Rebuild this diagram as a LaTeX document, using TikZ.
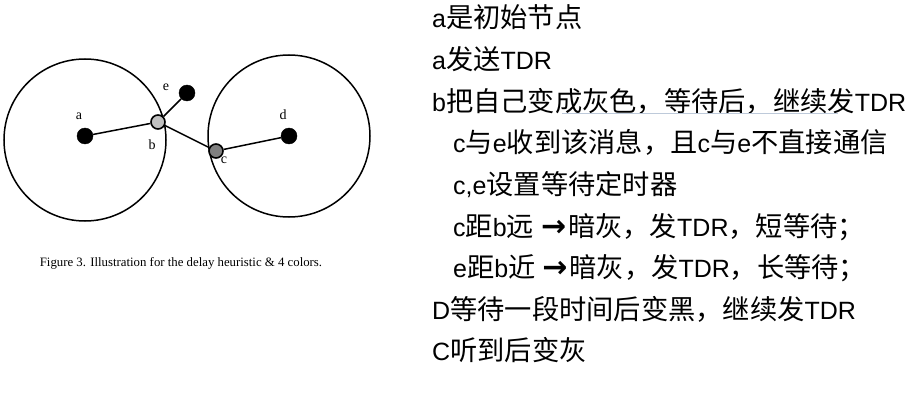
\documentclass[tikz,border=0pt]{standalone}
\usepackage{fontspec}
\setmainfont{Liberation Sans}
\newfontfamily\cjk{Noto Sans CJK SC}[Scale=1.09]
\newfontfamily\figfont{Liberation Serif}
\newfontfamily\arrowfont{DejaVu Sans}[Scale=1.2]
\usepackage{xcolor}
\usepackage{tikz}
\definecolor{lightnode}{RGB}{192,192,192}
\definecolor{darknode}{RGB}{128,128,128}
\definecolor{fadeline}{RGB}{190,202,218}
\newcommand{\zh}[1]{{\cjk #1}}
\newcommand{\thenarrow}{\ {\arrowfont\bfseries →}\hspace{2pt}}

\begin{document}
\begin{tikzpicture}[x=1pt,y=-1pt,
  blackdot/.style={circle,draw=black,fill=black,inner sep=0pt,minimum size=16pt},
  graydot/.style={circle,draw=black,line width=1.6pt,inner sep=0pt,minimum size=14pt},
  letter/.style={inner sep=0pt,font=\figfont\fontsize{14}{14}\selectfont},
  textline/.style={anchor=base west,inner sep=0pt,font=\fontsize{25}{25}\selectfont}]
\useasboundingbox[fill=white] (0,0) rectangle (921,409);
% radio ranges of a and d
\draw[line width=1.5pt] (85,140) circle[radius=81pt];
\draw[line width=1.5pt] (289,136) circle[radius=81pt];
% nodes
\node[blackdot] (a) at (85,136) {};
\node[graydot,fill=lightnode] (b) at (158,122) {};
\node[graydot,fill=darknode] (c) at (216,151) {};
\node[blackdot] (d) at (289,136) {};
\node[blackdot] (e) at (187,93) {};
\draw[line width=1.5pt] (a) -- (b);
\draw[line width=1.5pt] (b) -- (e);
\draw[line width=1.5pt] (b) -- (c);
\draw[line width=1.5pt] (c) -- (d);
\node[letter] (la) at (79,116) {a};
\node[letter] (lb) at (152,145) {b};
\node[letter] (lc) at (224,160) {c};
\node[letter] (ld) at (283,115) {d};
\node[letter] (le) at (166,87) {e};
\node[inner sep=0pt,font=\figfont\fontsize{12.8}{12.8}\selectfont] (caption) at (181,263)
  {Figure 3. Illustration for the delay heuristic \& 4 colors.};
% steps
\node[textline] (s1) at (432,28) {a\zh{是初始节点}};
\node[textline] (s2) at (432,69.6) {a\zh{发送}TDR};
\node[textline] (s3) at (432,111.2) {b\zh{把自己变成灰色，等待后，继续发}TDR};
\node[textline] (s4) at (453,152.8) {c\zh{与}e\zh{收到该消息，且}c\zh{与}e\zh{不直接通信}};
\node[textline] (s5) at (453,194.4) {c,e\zh{设置等待定时器}};
\node[textline] (s6) at (453,236) {c\zh{距}b\zh{远}\thenarrow\zh{暗灰，发}TDR\zh{，短等待；}};
\node[textline] (s7) at (453,277.6) {e\zh{距}b\zh{近}\thenarrow\zh{暗灰，发}TDR\zh{，长等待；}};
\node[textline] (s8) at (432,319.2) {D\zh{等待一段时间后变黑，继续发}TDR};
\node[textline] (s9) at (432,360.8) {C\zh{听到后变灰}};
\draw[fadeline,line width=0.8pt] (562,113.5) -- (838,113.5);
\end{tikzpicture}
\end{document}
